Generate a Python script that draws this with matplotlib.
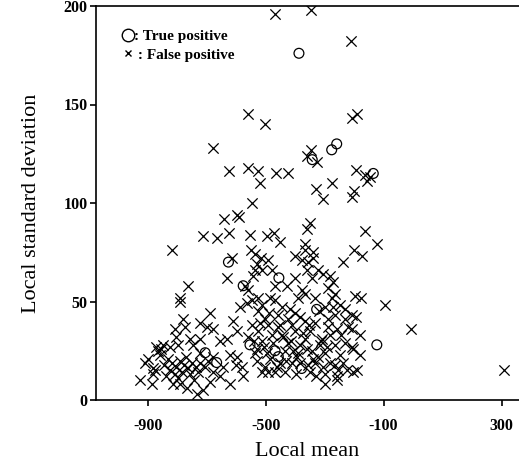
import matplotlib
matplotlib.use('Agg')
import matplotlib.pyplot as plt
from matplotlib.lines import Line2D

# true positives: local mean / local standard deviation
tp_mean = [-387, -276, -259, -342, -135, -626, -576, -455, -705, -666,
           -553, -468, -457, -378, -327, -123]
tp_std = [176, 127, 130, 122, 115, 70, 58, 62, 24, 19,
          28, 25, 22, 16, 46, 28]

# false positives
fp_mean = [
    -468, -347, -210, -559, -502, -208, -189, -679, -361, -347,
    -327, -623, -561, -525, -519, -465, -425, -194, -163, -157,
    -146, -329, -276, -200, -208, -304, -545, -641, -598, -589,
    -713, -666, -623, -553, -496, -471, -451, -818, -615, -551,
    -536, -530, -536, -632, -762, -570, -559, -542, -790, -349,
    -361, -163, -123, -202, -174, -237, -366, -366, -339, -515,
    -491, -400, -378, -355, -338, -513, -479, -400, -361, -344,
    -321, -304, -282, -271, -468, -428, -378, -366, -390, -287,
    -265, -197, -177, -485, -525, -95, -7, 308, -225, -259,
    -208, -208, -468, -333, -276, -299, -265, -231, -208, -525,
    -502, -457, -423, -411, -400, -366, -333, -287, -259, -525,
    -479, -445, -400, -366, -310, -265, -231, -203, -434, -406,
    -389, -344, -321, -299, -502, -491, -468, -434, -355, -333,
    -304, -265, -254, -259, -411, -512, -445, -491, -457, -512,
    -424, -383, -349, -316, -282, -248, -282, -383, -451, -485,
    -529, -512, -190, -203, -237, -299, -349, -397, -231, -194,
    -248, -790, -688, -779, -773, -610, -722, -700, -677, -587,
    -564, -546, -598, -547, -807, -804, -847, -824, -796, -864,
    -756, -745, -722, -655, -632, -530, -722, -677, -621, -598,
    -581, -881, -881, -926, -886, -813, -790, -767, -734, -712,
    -688, -655, -621, -678, -643, -831, -817, -804, -790, -777,
    -763, -749, -736, -824, -807, -783, -756, -729, -838, -722,
    -770, -797, -743, -705, -695, -870, -853, -876, -900, -858,
    -910, -844, -536, -180, -180,
    -540, -505, -475, -440, -415, -372, -340, -312, -292, -245,
    -520, -488, -452, -418, -385, -352, -318, -290, -270, -222,
    -600, -575, -560, -495, -460, -430, -395, -360, -330, -300,
]
fp_std = [
    196, 198, 182, 145, 140, 143, 145, 128, 124, 127,
    121, 116, 118, 116, 110, 115, 115, 117, 114, 111,
    113, 107, 110, 106, 103, 102, 100, 92, 94, 93,
    83, 82, 85, 84, 83, 85, 80, 76, 72, 76,
    74, 69, 66, 62, 58, 58, 56, 63, 52, 90,
    87, 86, 79, 76, 73, 70, 79, 76, 75, 72,
    71, 73, 71, 70, 72, 66, 66, 62, 66, 62,
    66, 64, 63, 60, 58, 58, 56, 54, 52, 57,
    54, 53, 52, 52, 52, 48, 36, 15, 15, 12,
    27, 36, 51, 52, 52, 47, 43, 41, 43, 45,
    41, 43, 41, 38, 44, 40, 39, 37, 36, 35,
    33, 33, 35, 31, 31, 28, 29, 26, 25, 25,
    24, 25, 22, 24, 17, 14, 14, 14, 18, 19,
    17, 18, 15, 10, 19, 48, 47, 38, 37, 30,
    29, 28, 35, 28, 33, 23, 19, 19, 19, 21,
    20, 14, 15, 14, 19, 13, 14, 13, 46, 42,
    48, 50, 44, 41, 37, 40, 39, 37, 36, 47,
    49, 51, 35, 38, 36, 32, 28, 27, 28, 25,
    31, 28, 31, 30, 31, 26, 24, 22, 23, 22,
    17, 16, 13, 10, 8, 8, 8, 6, 3, 5,
    9, 12, 8, 14, 17, 21, 19, 17, 20, 18,
    16, 19, 17, 15, 13, 14, 13, 14, 12, 19,
    22, 11, 10, 17, 20, 27, 26, 15, 21, 23,
    19, 18, 24, 33, 23,
    30, 27, 29, 32, 30, 34, 21, 30, 27, 33,
    39, 44, 38, 46, 42, 38, 45, 41, 47, 37,
    18, 12, 32, 24, 17, 20, 22, 26, 12, 8,
]

xticks = [-900, -500, -100, 300]
yticks = [0, 50, 100, 150, 200]

plt.rcParams['font.family'] = ['Liberation Serif', 'DejaVu Serif']
plt.rcParams['axes.unicode_minus'] = False

fig = plt.figure(figsize=(5.19, 4.63), dpi=100)
ax = fig.add_axes([96 / 519, 63 / 463, 423 / 519, 394 / 463])

ax.scatter(fp_mean, fp_std, marker='x', s=55, color='black', linewidths=0.9)
ax.scatter(tp_mean, tp_std, marker='o', s=50, facecolors='none',
           edgecolors='black', linewidths=0.9)

ax.set_xlim(-1075, 359)
ax.set_ylim(0, 200)
ax.set_xticks(xticks)
ax.set_yticks(yticks)
ax.tick_params(direction='out', length=4, width=1.2, labelsize=11.5)
ax.tick_params(axis='x', pad=9)
ax.tick_params(axis='y', pad=2)
for lab in ax.get_xticklabels() + ax.get_yticklabels():
    lab.set_fontweight('bold')

ax.spines['right'].set_visible(False)
for side in ['left', 'bottom', 'top']:
    ax.spines[side].set_linewidth(1.2)

ax.set_xlabel('Local mean', fontsize=16, labelpad=6)
ax.set_ylabel('Local standard deviation', fontsize=16, labelpad=16)

handles = [
    Line2D([], [], marker='o', ls='', mfc='none', mec='black', ms=9, mew=1),
    Line2D([], [], marker='x', ls='', color='black', ms=5, mew=1),
]
ax.legend(handles, [': True positive', ' : False positive'], loc='upper left',
          bbox_to_anchor=(0.03, 0.975), frameon=False, handlelength=0.7,
          handletextpad=0.05, labelspacing=0.3,
          prop=dict(family='Liberation Serif', weight='bold', size=11))

fig.savefig('out.png', dpi=100)
